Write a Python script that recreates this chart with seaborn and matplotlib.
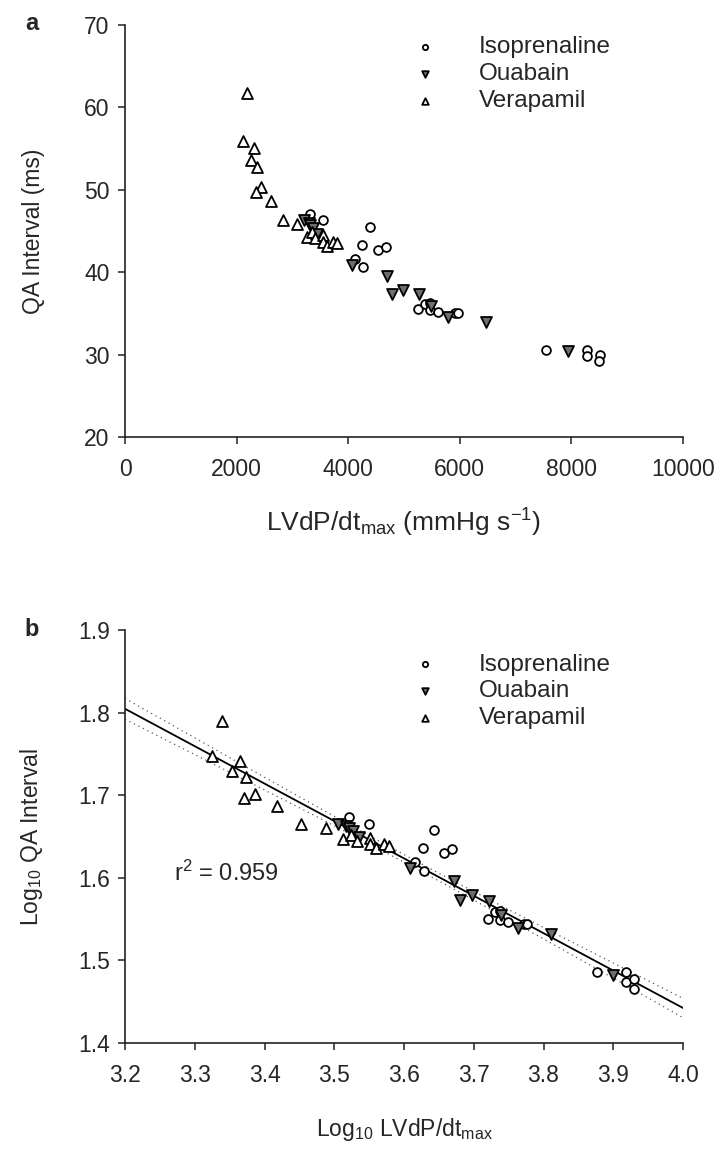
import numpy as np
import pandas as pd
import matplotlib
matplotlib.use("Agg")
import matplotlib.pyplot as plt
import seaborn as sns

# LVdP/dt max (mmHg/s) and QA interval (ms)
iso_lvdp = [3315, 3542, 4390, 4241, 4540, 4671, 4122, 4259, 5245, 5376,
            5466, 5466, 5615, 5914, 5973, 7539, 8274, 8285, 8512, 8500]
iso_qa = [47.1, 46.3, 45.5, 43.3, 42.7, 43.1, 41.6, 40.6, 35.5, 36.2,
          36.3, 35.4, 35.2, 35.0, 35.0, 30.6, 30.6, 29.8, 30.0, 29.2]

oua_lvdp = [3199, 3289, 3319, 3365, 3436, 4062, 4689, 4791, 4988, 5275,
            5478, 5794, 6469, 7933]
oua_qa = [46.3, 46.0, 45.7, 45.4, 44.6, 40.9, 39.5, 37.4, 37.9, 37.3,
          35.9, 34.6, 34.0, 30.4]

ver_lvdp = [2181, 2109, 2317, 2253, 2360, 2437, 2348, 2616, 2837, 3082,
            3256, 3346, 3405, 3554, 3554, 3625, 3722, 3794]
ver_qa = [61.7, 55.9, 55.1, 53.6, 52.8, 50.3, 49.7, 48.7, 46.3, 45.8,
          44.3, 44.9, 44.1, 44.5, 43.7, 43.2, 43.7, 43.5]

drogas = ["Isoprenaline", "Ouabain", "Verapamil"]
marcadores = {"Isoprenaline": "o", "Ouabain": "v", "Verapamil": "^"}
cores = {"Isoprenaline": "white", "Ouabain": "#6e6e6e", "Verapamil": "white"}
tamanhos = {"Isoprenaline": 40, "Ouabain": 62, "Verapamil": 62}

df = pd.concat([
    pd.DataFrame({"Droga": "Isoprenaline", "LVdP": iso_lvdp, "QA": iso_qa}),
    pd.DataFrame({"Droga": "Ouabain", "LVdP": oua_lvdp, "QA": oua_qa}),
    pd.DataFrame({"Droga": "Verapamil", "LVdP": ver_lvdp, "QA": ver_qa}),
], ignore_index=True)
df["logLVdP"] = np.log10(df["LVdP"])
df["logQA"] = np.log10(df["QA"])

sns.set_style("ticks")
plt.rcParams["font.family"] = ["Liberation Sans", "DejaVu Sans"]
plt.rcParams["mathtext.fontset"] = "custom"
plt.rcParams["mathtext.rm"] = "Liberation Sans"
plt.rcParams["mathtext.it"] = "Liberation Sans:italic"
plt.rcParams["mathtext.default"] = "rm"

fig = plt.figure(figsize=(7.26, 11.53), dpi=100)
ax_a = fig.add_axes([125 / 726, 1 - 437 / 1153, 558 / 726, 412 / 1153])
ax_b = fig.add_axes([125 / 726, 1 - 1043 / 1153, 558 / 726, 413 / 1153])


def desenha(ax, xcol, ycol):
    for d in drogas:
        sns.scatterplot(
            data=df[df["Droga"] == d], x=xcol, y=ycol, ax=ax,
            marker=marcadores[d], color=cores[d], edgecolor="black",
            linewidth=1.3, s=tamanhos[d], label=d, zorder=3
        )
    for lado in ["top", "right"]:
        ax.spines[lado].set_visible(False)
    for lado in ["left", "bottom"]:
        ax.spines[lado].set_color("#222222")
        ax.spines[lado].set_linewidth(1.2)
    ax.tick_params(labelsize=16.5, length=5, width=1.1, color="#222222")
    ax.tick_params(axis="x", pad=10)
    ax.tick_params(axis="y", pad=6)


def legenda(ax, topo):
    ax.legend(loc="upper left", bbox_to_anchor=(0.516, topo), frameon=False,
              fontsize=17.5, handlelength=1.0, handletextpad=1.7,
              borderpad=0, borderaxespad=0, labelspacing=0.2,
              markerscale=0.6)


desenha(ax_a, "LVdP", "QA")
ax_a.set_xlim(0, 10000)
ax_a.set_ylim(20, 70)
ax_a.set_xticks(range(0, 10001, 2000))
ax_a.set_yticks(range(20, 71, 10))
ax_a.set_xlabel("LVdP/dt$_{max}$ (mmHg s$^{-1}$)", fontsize=19, labelpad=19)
ax_a.set_ylabel("QA Interval (ms)", fontsize=16.5)
ax_a.yaxis.set_label_coords(-0.143, 0.5)
legenda(ax_a, 0.973)

desenha(ax_b, "logLVdP", "logQA")
ax_b.set_xlim(3.2, 4.0)
ax_b.set_ylim(1.4, 1.9)
ax_b.set_xticks(np.arange(3.2, 4.01, 0.1))
ax_b.set_yticks(np.arange(1.4, 1.91, 0.1))
ax_b.xaxis.set_major_formatter(matplotlib.ticker.FormatStrFormatter("%.1f"))
ax_b.yaxis.set_major_formatter(matplotlib.ticker.FormatStrFormatter("%.1f"))
ax_b.set_xlabel("Log$_{10}$ LVdP/dt$_{max}$", fontsize=16.5, labelpad=21)
ax_b.set_ylabel("Log$_{10}$ QA Interval", fontsize=16.5)
ax_b.yaxis.set_label_coords(-0.143, 0.5)
legenda(ax_b, 0.943)

# regressão linear e intervalo de confiança de 95% da recta
x = df["logLVdP"].to_numpy()
y = df["logQA"].to_numpy()
declive, origem = np.polyfit(x, y, 1)
n = len(x)
residuos = y - (declive * x + origem)
s = np.sqrt(np.sum(residuos ** 2) / (n - 2))
sxx = np.sum((x - x.mean()) ** 2)
xs = np.linspace(3.2, 4.0, 200)
ys = declive * xs + origem
se = s * np.sqrt(1 / n + (xs - x.mean()) ** 2 / sxx)
ax_b.plot(xs, ys, color="black", lw=1.3, zorder=2)
ax_b.plot(xs, ys + 2.0 * se, color="0.35", lw=0.9, ls=(0, (1, 3)), zorder=2)
ax_b.plot(xs, ys - 2.0 * se, color="0.35", lw=0.9, ls=(0, (1, 3)), zorder=2)

ax_b.text(3.27, 1.605, "r$^2$ = 0.959", fontsize=17, va="center", ha="left")

fig.text(32 / 726, 1 - 24 / 1153, "a", fontsize=17, fontweight="bold",
         ha="center", va="center")
fig.text(32 / 726, 1 - 629 / 1153, "b", fontsize=17, fontweight="bold",
         ha="center", va="center")

fig.savefig("out.png", dpi=100)
